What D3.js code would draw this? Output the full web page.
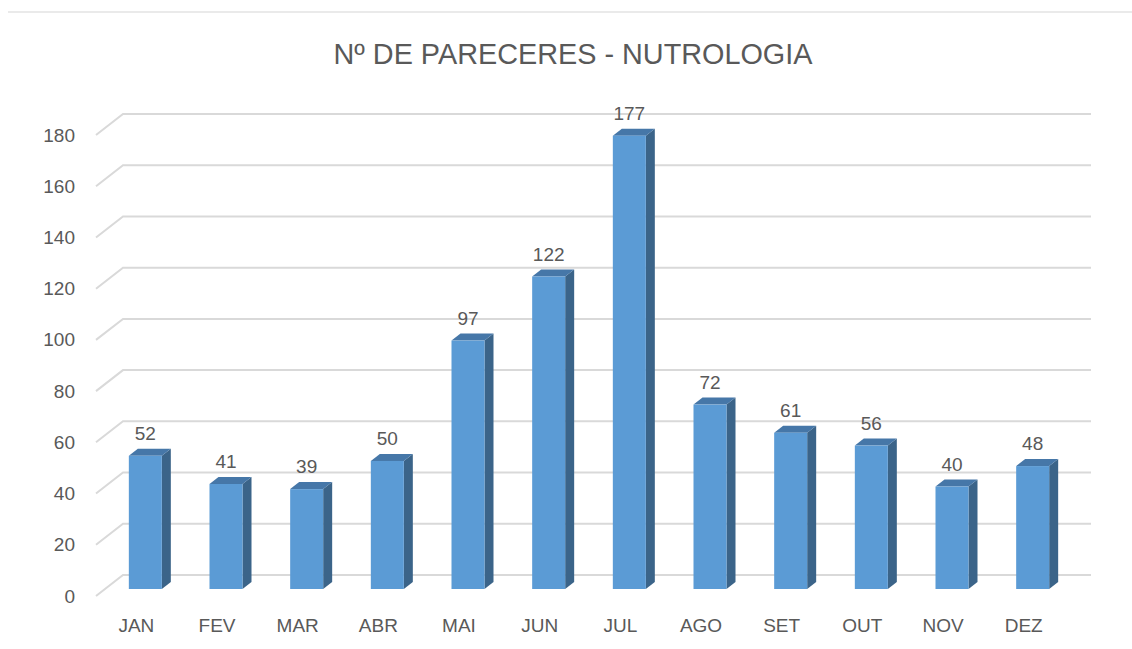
<!DOCTYPE html>
<html>
<head>
<meta charset="utf-8">
<script src="https://cdn.jsdelivr.net/npm/d3@7"></script>
<style>
  body { margin: 0; background: #fff; }
  text { font-family: "Liberation Sans", Arial, sans-serif; fill: #595959; }
</style>
</head>
<body>
<svg id="chart" width="1132" height="649"></svg>
<script>
var months = ["JAN", "FEV", "MAR", "ABR", "MAI", "JUN", "JUL", "AGO", "SET", "OUT", "NOV", "DEZ"];
var pareceres = [52, 41, 39, 50, 97, 122, 177, 72, 61, 56, 40, 48];
var yTicks = [0, 20, 40, 60, 80, 100, 120, 140, 160, 180];

var svg = d3.select("#chart");

// oblique depth: back wall at z=0, front edge at z=1
var DX = -27, DY = 21;
var barW = 33;

var x = d3.scaleBand().domain(months).range([123, 1091]);
var y = d3.scaleLinear().domain([0, 180]).range([575, 114]);

function pt(px, py, z) { return [px + DX * z, py + DY * z]; }

svg.append("line")
  .attr("x1", 8).attr("x2", 1132).attr("y1", 12).attr("y2", 12)
  .attr("stroke", "#e3e3e3").attr("stroke-width", 1.5);

svg.append("text")
  .attr("x", 573).attr("y", 64)
  .attr("text-anchor", "middle")
  .attr("textLength", 479).attr("lengthAdjust", "spacingAndGlyphs")
  .style("font-size", "29px")
  .text("Nº DE PARECERES - NUTROLOGIA");

// gridlines, bent along the floor depth
svg.append("g").selectAll("polyline")
  .data(yTicks)
  .enter().append("polyline")
  .attr("points", function(d) {
    var a = pt(123, y(d), 1), b = pt(123, y(d), 0), c = pt(1091, y(d), 0);
    return [a, b, c].map(function(p) { return p.join(","); }).join(" ");
  })
  .attr("fill", "none")
  .attr("stroke", "#d9d9d9")
  .attr("stroke-width", 2);

// y labels sit at the front end of each gridline
var yAxis = svg.append("g")
  .attr("transform", "translate(" + (123 + DX) + "," + DY + ")")
  .call(d3.axisLeft(y).tickValues(yTicks).tickSize(0).tickPadding(21));
yAxis.select(".domain").remove();
yAxis.selectAll("text").style("font-size", "19px").style("font-family", null).attr("fill", null);

var xAxis = svg.append("g")
  .attr("transform", "translate(" + DX + "," + (y(0) + DY) + ")")
  .call(d3.axisBottom(x).tickSize(0).tickPadding(23));
xAxis.select(".domain").remove();
xAxis.selectAll("text").style("font-size", "19px").style("font-family", null).attr("fill", null);

// bars: front face at z=2/3, back at z=1/3
var zf = 2 / 3, zb = 1 / 3;
var bars = svg.append("g").selectAll("g")
  .data(months.map(function(m, i) { return {m: m, v: pareceres[i]}; }))
  .enter().append("g");

function poly(ps) { return ps.map(function(p) { return p.join(","); }).join(" "); }

bars.each(function(d) {
  var g = d3.select(this);
  var cx = x(d.m) + x.bandwidth() / 2;
  var l = cx - barW / 2, r = cx + barW / 2;
  var flt = pt(l, y(d.v), zf), frt = pt(r, y(d.v), zf), frb = pt(r, y(0), zf);
  var blt = pt(l, y(d.v), zb), brt = pt(r, y(d.v), zb), brb = pt(r, y(0), zb);

  g.append("polygon").attr("points", poly([frt, brt, brb, frb])).attr("fill", "#3b6489");
  g.append("polygon").attr("points", poly([flt, blt, brt, frt])).attr("fill", "#4677a8");
  g.append("rect")
    .attr("x", flt[0]).attr("y", flt[1])
    .attr("width", barW).attr("height", frb[1] - frt[1])
    .attr("fill", "#5b9bd5");
  g.append("text")
    .attr("x", (flt[0] + frt[0]) / 2).attr("y", flt[1] - 16)
    .attr("text-anchor", "middle")
    .style("font-size", "19px")
    .text(d.v);
});
</script>
</body>
</html>
